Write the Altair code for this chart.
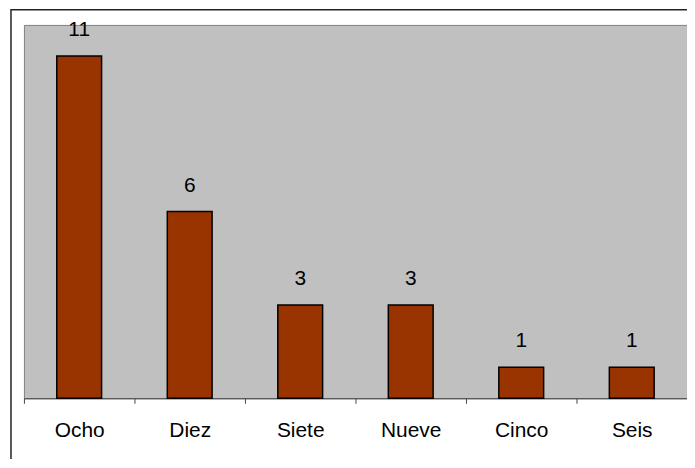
import altair as alt
import pandas as pd

categories = ["Ocho", "Diez", "Siete", "Nueve", "Cinco", "Seis"]
values = [11, 6, 3, 3, 1, 1]

df = pd.DataFrame({"cat": categories, "val": values})

x_enc = alt.X(
    "cat:N",
    sort=categories,
    title=None,
    scale=alt.Scale(paddingInner=0, paddingOuter=0),
    axis=alt.Axis(
        labelAngle=0,
        tickBand="extent",
        tickSize=5,
        labelPadding=33,
        labelBaseline="alphabetic",
        labelFont="Liberation Sans",
        labelFontSize=21,
        labelColor="black",
        domainColor="#444444",
        tickColor="#444444",
        domainWidth=1,
        tickWidth=1,
        grid=False,
    ),
)
y_enc = alt.Y("val:Q", scale=alt.Scale(domain=[0, 12]), axis=None)

base = alt.Chart(df).encode(x=x_enc, y=y_enc)

bars = base.mark_bar(size=45, color="#993300", stroke="black", strokeWidth=1.5)
labels = base.mark_text(
    dy=-20, baseline="alphabetic", fontSize=21, font="Liberation Sans", color="black"
).encode(text="val:Q")

frame = alt.Chart(pd.DataFrame({"a": [0]})).mark_rect(
    fillOpacity=0, stroke="#222222", strokeWidth=1.5
).encode(
    x=alt.value(-13), x2=alt.value(720), y=alt.value(-15.25), y2=alt.value(520)
)

chart = (
    alt.layer(frame, bars, labels)
    .properties(
        width=666,
        height=375,
        padding={"left": 16, "top": 16, "right": 0, "bottom": 60},
        autosize=alt.AutoSizeParams(type="none"),
        background="white",
    )
    .configure_view(fill="#C0C0C0", stroke="#808080", strokeWidth=1)
)

chart.save("out.html", embed_options={"renderer": "svg", "actions": False})
